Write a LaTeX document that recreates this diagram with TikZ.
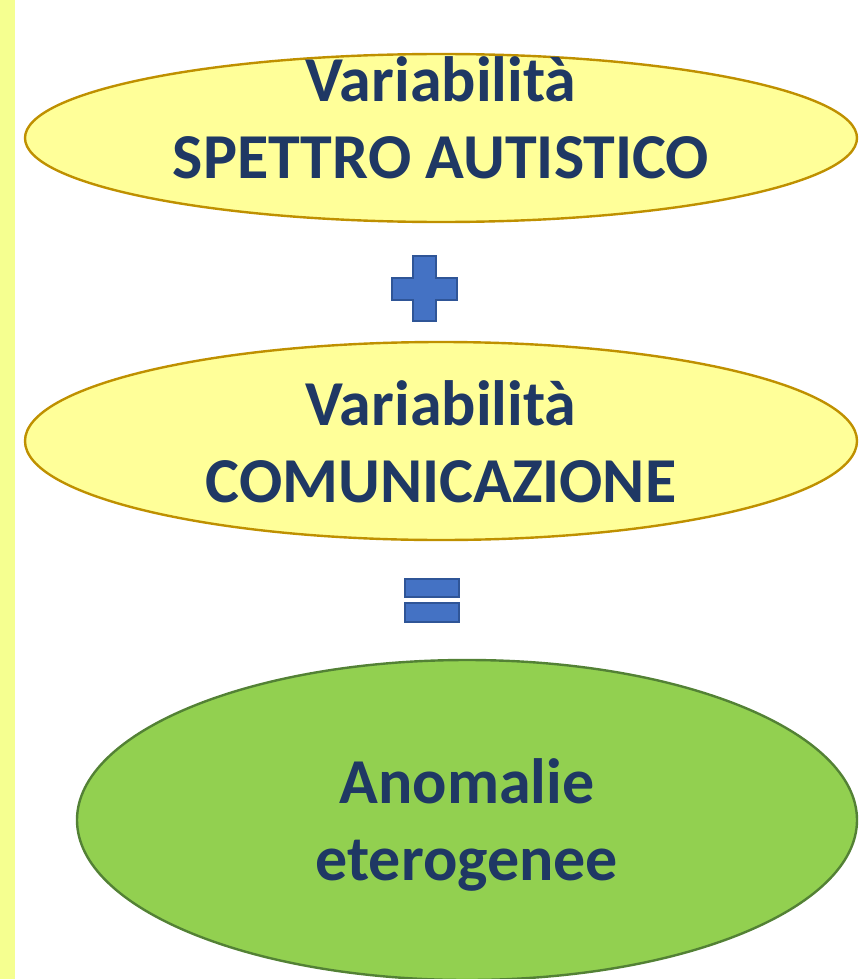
\documentclass[tikz,border=0pt]{standalone}
\usepackage{fontspec}
\setmainfont{Carlito}
\usetikzlibrary{shapes.geometric}
\definecolor{striscia}{HTML}{F5FF90}
\definecolor{giallo}{HTML}{FFFF99}
\definecolor{bordogiallo}{HTML}{BF9000}
\definecolor{verde}{HTML}{92D050}
\definecolor{bordoverde}{HTML}{538135}
\definecolor{blu}{HTML}{4472C4}
\definecolor{bordoblu}{HTML}{2F5597}
\definecolor{testo}{HTML}{1F3864}
\tikzset{
  bolla/.style={ellipse, draw=bordogiallo, fill=giallo, line width=2.4pt, inner sep=0pt},
  scritta/.style={text=testo, font=\fontsize{64}{77}\selectfont\bfseries, align=center, inner sep=0pt},
  segno/.style={draw=bordoblu, fill=blu, line width=2pt}
}
\begin{document}
\begin{tikzpicture}[x=1pt, y=-1pt]
\useasboundingbox (0,0) rectangle (859,979);
\fill[striscia] (0,0) rectangle (15,979);
\node[bolla, minimum width=832pt, minimum height=168pt] (spettro) at (441,138) {};
\node[scritta] (t-spettro) at (441,118) {Variabilità\\SPETTRO AUTISTICO};
\node[bolla, minimum width=832pt, minimum height=198pt] (comunicazione) at (441,441) {};
\node[scritta] (t-comunicazione) at (441,442) {Variabilità\\COMUNICAZIONE};
\node[bolla, draw=bordoverde, fill=verde, minimum width=780pt, minimum height=320pt] (anomalie) at (467,820) {};
\node[scritta] (t-anomalie) at (467,825) {Anomalie\\eterogenee};
% piu'
\draw[segno] (413,256)--(436,256)--(436,278)--(457,278)--(457,300)--(436,300)--(436,321)
  --(413,321)--(413,300)--(392,300)--(392,278)--(413,278)--cycle;
% uguale
\draw[segno] (405,579) rectangle (459,597);
\draw[segno] (405,603) rectangle (459,622);
\end{tikzpicture}
\end{document}
